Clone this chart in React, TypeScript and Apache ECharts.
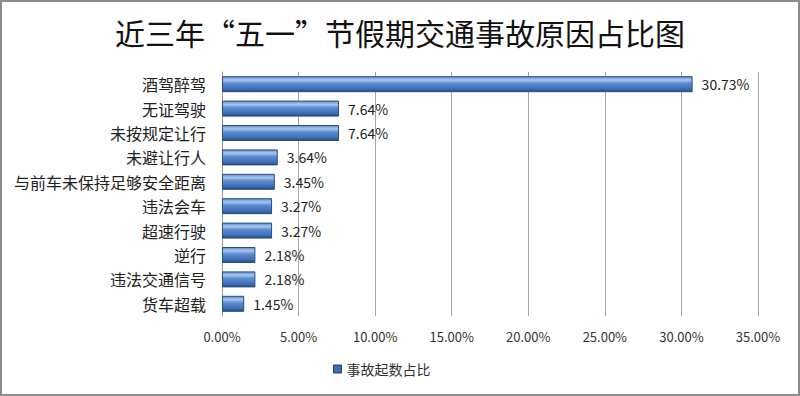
import React, { useEffect, useRef } from "react";
import * as echarts from "echarts";

const categories = [
  "酒驾醉驾",
  "无证驾驶",
  "未按规定让行",
  "未避让行人",
  "与前车未保持足够安全距离",
  "违法会车",
  "超速行驶",
  "逆行",
  "违法交通信号",
  "货车超载",
];
const values = [30.73, 7.64, 7.64, 3.64, 3.45, 3.27, 3.27, 2.18, 2.18, 1.45];
const seriesName = "事故起数占比";
const titleText = "近三年“五一”节假期交通事故原因占比图";

export default function App() {
  const ref = useRef<HTMLDivElement>(null);
  useEffect(() => {
    document.body.style.margin = "0";
    const chart = echarts.init(ref.current!, null, { renderer: "svg" });
    const font = "'Noto Sans CJK SC', sans-serif";
    chart.setOption({
      animation: false,
      backgroundColor: "#ffffff",
      title: {
        text: titleText,
        left: "center",
        top: 12,
        textStyle: { fontFamily: font, fontSize: 30, fontWeight: "normal", color: "#111" },
      },
      legend: {
        bottom: 15,
        left: 328,
        itemWidth: 8,
        itemHeight: 8,
        itemGap: 3,
        textStyle: { fontFamily: font, fontSize: 14, color: "#333" },
        data: [{ name: seriesName, icon: "rect", itemStyle: { color: "#3f6fb0", borderColor: "#1f3f6a", borderWidth: 1 } }],
      },
      grid: { left: 222, right: 42, top: 72, bottom: 80, containLabel: false },
      xAxis: {
        type: "value",
        min: 0,
        max: 35,
        interval: 5,
        axisLine: { show: false },
        axisTick: { show: false },
        axisLabel: {
          formatter: (v: number) => v.toFixed(2) + "%",
          fontFamily: font,
          fontSize: 13,
          color: "#333",
          margin: 14,
        },
        splitLine: { show: true, lineStyle: { color: "#a6a6a6", width: 1 } },
      },
      yAxis: {
        type: "category",
        data: categories,
        inverse: true,
        axisLine: { show: true, lineStyle: { color: "#999" } },
        axisTick: { show: false },
        axisLabel: { fontFamily: font, fontSize: 16, color: "#222", margin: 16 },
      },
      series: [
        {
          name: seriesName,
          type: "bar",
          data: values,
          barWidth: 16,
          itemStyle: {
            color: new echarts.graphic.LinearGradient(0, 0, 0, 1, [
              { offset: 0, color: "#5f8dcc" },
              { offset: 0.22, color: "#a9c7ee" },
              { offset: 0.45, color: "#5b8ad0" },
              { offset: 0.8, color: "#3f70b6" },
              { offset: 1, color: "#224a84" },
            ]),
            borderColor: "#2a4e80",
            borderWidth: 1,
          },
          label: {
            show: true,
            position: "right",
            distance: 9,
            formatter: (p: any) => p.value.toFixed(2) + "%",
            fontFamily: font,
            fontSize: 14,
            color: "#222",
          },
        },
      ],
      graphic: [
        {
          type: "rect",
          shape: { x: 1, y: 1, width: 798, height: 394 },
          style: { fill: "none", stroke: "#8c8c8c", lineWidth: 2 },
          silent: true,
        },
      ],
    });
    return () => chart.dispose();
  }, []);
  return <div ref={ref} style={{ width: 800, height: 396 }} />;
}
